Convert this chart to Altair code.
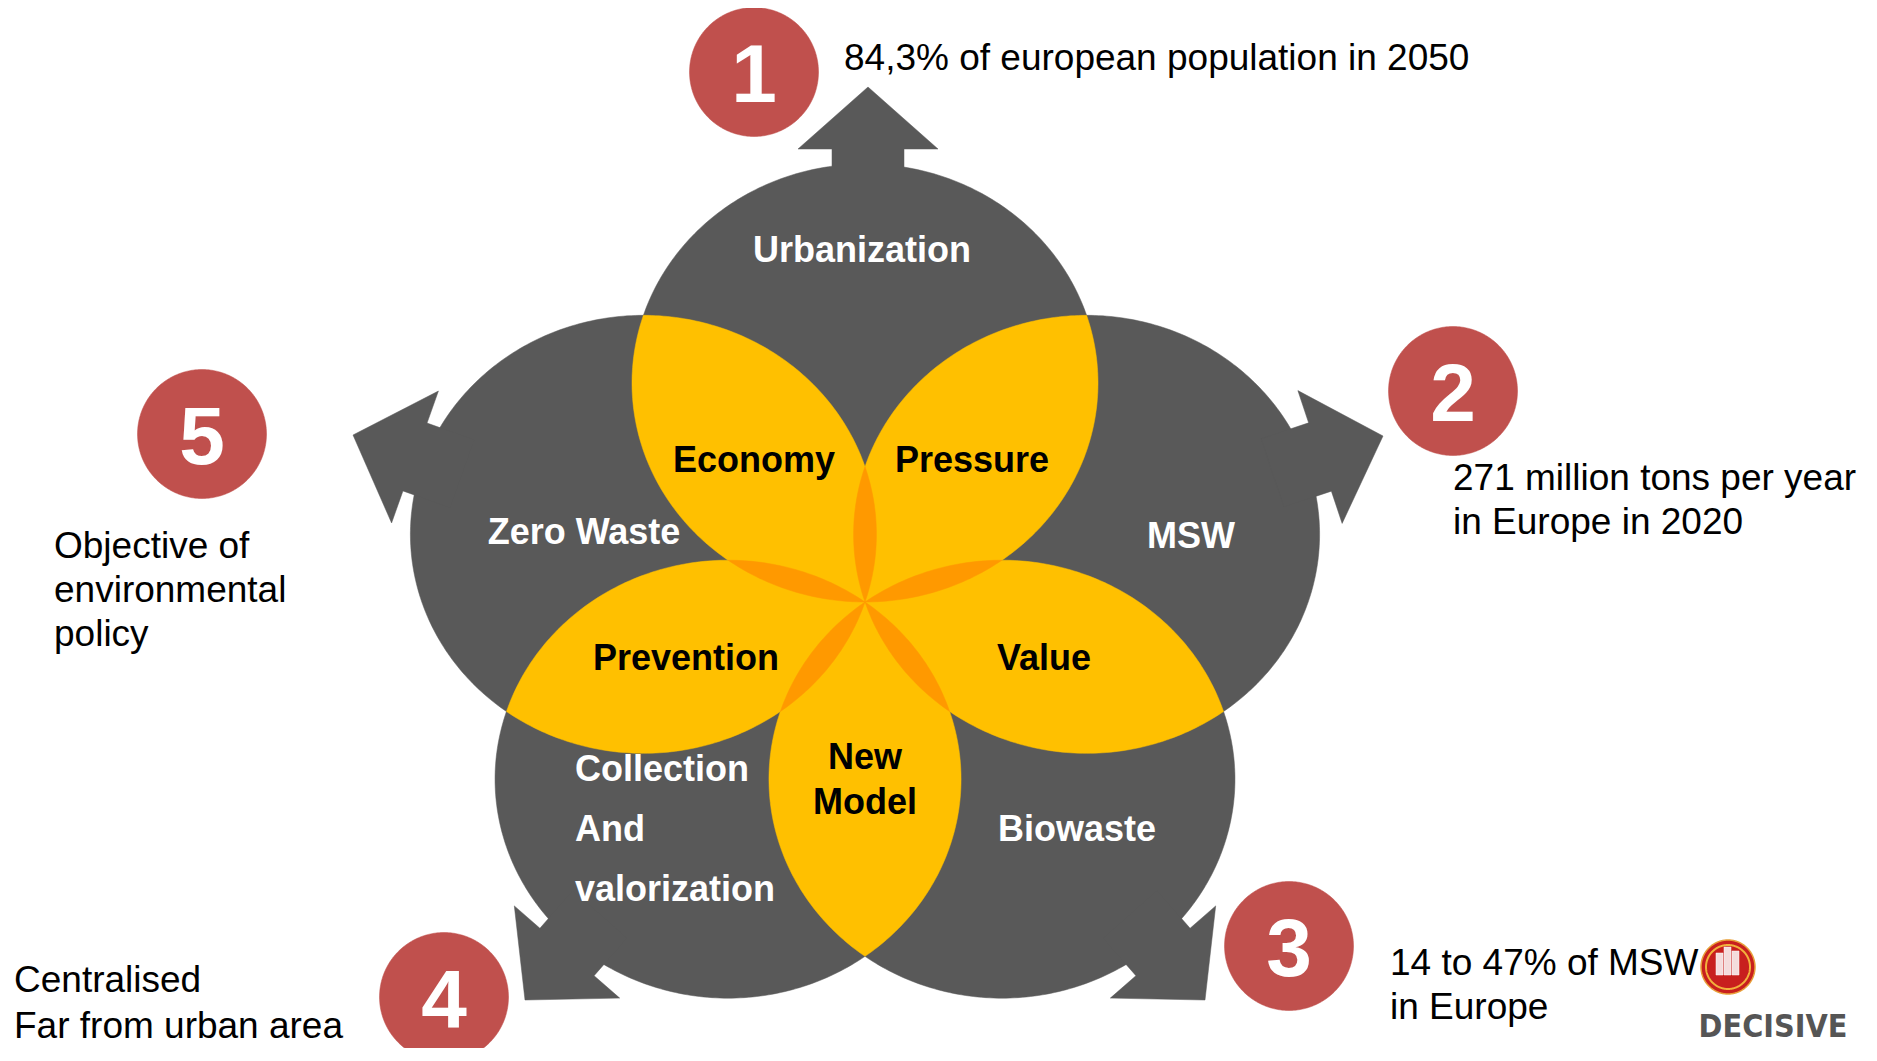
import math
import altair as alt
import pandas as pd

# ---------------- data ----------------
# flower of five circles (page pixel coordinates, y downwards)
FLOWER_CENTER = (865, 602)
FLOWER_RADII = (233, 219)              # horizontal / vertical radius of each petal circle
PETAL_ANGLES = [90, 162, 234, 306, 18]  # Urbanization, Zero Waste, Collection, Biowaste, MSW

# arrows: tip and base centre
ARROW_TIPS = [(868, 87), (353, 435), (525, 1000), (1205, 1000), (1383, 436)]
ARROW_BASES = [(868, 149), (415, 457), (567, 952), (1163, 952), (1320, 457)]

# white labels on grey
white_text = ["Urbanization", "Zero Waste", "MSW", "Biowaste"]
white_x = [862, 584, 1191, 1077]
white_y = [261, 543, 547, 840]
white_left_text = ["Collection", "And", "valorization"]
white_left_x = [575, 575, 575]
white_left_y = [780, 840, 900]

# black labels on yellow
black_text = ["Economy", "Pressure", "Prevention", "Value", "New", "Model"]
black_x = [754, 972, 686, 1044, 865, 865]
black_y = [471, 471, 669, 669, 768, 813]

# numbered red discs
numbers = ["1", "2", "3", "4", "5"]
num_x = [754, 1453, 1289, 444, 202]
num_y = [72, 391, 946, 997, 434]

# annotations
notes = ["84,3% of european population in 2050",
         "271 million tons per year", "in Europe in 2020",
         "14 to 47% of MSW", "in Europe",
         "Centralised", "Far from urban area",
         "Objective of", "environmental", "policy"]
note_x = [844, 1453, 1453, 1390, 1390, 14, 14, 54, 54, 54]
note_y = [70, 490, 534, 975, 1019, 992, 1038, 558, 602, 646]

GREY = "#595959"
YELLOW = "#FFC000"
ORANGE = "#FF9900"
RED = "#C0504D"

# ---------------- geometry helpers ----------------
def unit_circle(cx, cy, r=1.0, n=360):
    return [(cx + r * math.cos(2 * math.pi * k / n), cy + r * math.sin(2 * math.pi * k / n))
            for k in range(n)]


def cross(a, b, p):
    return (b[0] - a[0]) * (p[1] - a[1]) - (b[1] - a[1]) * (p[0] - a[0])


def intersect(p1, p2, a, b):
    x1, y1 = p1
    x2, y2 = p2
    x3, y3 = a
    x4, y4 = b
    den = (x1 - x2) * (y3 - y4) - (y1 - y2) * (x3 - x4)
    if abs(den) < 1e-12:
        return p2
    t = ((x1 - x3) * (y3 - y4) - (y1 - y3) * (x3 - x4)) / den
    return (x1 + t * (x2 - x1), y1 + t * (y2 - y1))


def clip(subject, clipper):
    output = list(subject)
    for i in range(len(clipper)):
        a, b = clipper[i - 1], clipper[i]
        inp, output = output, []
        if not inp:
            break
        for j in range(len(inp)):
            p, q = inp[j], inp[j - 1]
            ip, iq = cross(a, b, p) >= 0, cross(a, b, q) >= 0
            if ip:
                if not iq:
                    output.append(intersect(q, p, a, b))
                output.append(p)
            elif iq:
                output.append(intersect(q, p, a, b))
    return output


def to_screen(poly):
    cx, cy = FLOWER_CENTER
    rx, ry = FLOWER_RADII
    return [(cx + rx * x, cy - ry * y) for x, y in poly]


def feature(poly):
    ring = [[round(x, 2), round(y, 2)] for x, y in poly]
    ring.append(ring[0])
    return {"type": "Feature", "properties": {},
            "geometry": {"type": "Polygon", "coordinates": [ring]}}


circles = [unit_circle(math.cos(math.radians(a)), math.sin(math.radians(a))) for a in PETAL_ANGLES]
n_c = len(circles)
grey_feats = [feature(to_screen(c)) for c in circles]
lens_feats = [feature(to_screen(clip(circles[i], circles[(i + 1) % n_c]))) for i in range(n_c)]
triple_feats = []
for i in range(n_c):
    poly = clip(clip(circles[i - 1], circles[i]), circles[(i + 1) % n_c])
    if len(poly) > 2:
        triple_feats.append(feature(to_screen(poly)))

arrow_feats = []
HEAD_HW, SHAFT_HW, SHAFT_LEN = 70, 36, 50
for (tx, ty), (bx, by) in zip(ARROW_TIPS, ARROW_BASES):
    dx, dy = tx - bx, ty - by
    L = math.hypot(dx, dy)
    ux, uy = dx / L, dy / L
    nx, ny = -uy, ux
    sbx, sby = bx - SHAFT_LEN * ux, by - SHAFT_LEN * uy
    pts = [(sbx + SHAFT_HW * nx, sby + SHAFT_HW * ny),
           (bx + SHAFT_HW * nx, by + SHAFT_HW * ny),
           (bx + HEAD_HW * nx, by + HEAD_HW * ny),
           (tx, ty),
           (bx - HEAD_HW * nx, by - HEAD_HW * ny),
           (bx - SHAFT_HW * nx, by - SHAFT_HW * ny),
           (sbx - SHAFT_HW * nx, sby - SHAFT_HW * ny)]
    arrow_feats.append(feature(pts))

red_feats = [feature(unit_circle(x, y, 64.5)) for x, y in zip(num_x, num_y)]

# logo
LOGO_C = (1728, 967)
logo_disc = [feature(unit_circle(LOGO_C[0], LOGO_C[1], 27))]
logo_ring = [feature(unit_circle(LOGO_C[0], LOGO_C[1], 22))]
logo_bars = []
for bx0, h in [(-12, 22), (-4, 28), (4, 24)]:
    x0 = LOGO_C[0] + bx0
    y1 = LOGO_C[1] + 8
    logo_bars.append(feature([(x0, y1), (x0 + 7, y1), (x0 + 7, y1 - h), (x0, y1 - h)]))

# ---------------- chart ----------------
PROJ = alt.Projection(type="identity", scale=1, translate=[-8, -8])


def shapes(feats, **kw):
    return alt.Chart(alt.Data(values=feats), projection=PROJ).mark_geoshape(**kw)


def texts(labels, xs, ys, size, **kw):
    df = pd.DataFrame({"label": labels, "lon": xs, "lat": ys})
    return alt.Chart(df, projection=PROJ).mark_text(
        fontSize=size, dy=-round(0.29 * size), **kw).encode(
        longitude="lon:Q", latitude="lat:Q", text="label:N")


FONT = "Liberation Sans"
layers = [
    shapes(grey_feats, color=GREY, stroke=GREY, strokeWidth=0.5),
    shapes(arrow_feats, color=GREY, stroke=GREY, strokeWidth=0.5),
    shapes(lens_feats, color=YELLOW, stroke=YELLOW, strokeWidth=0.5),
    shapes(triple_feats, color=ORANGE, stroke=ORANGE, strokeWidth=0.5),
    shapes(red_feats, color=RED, stroke=RED, strokeWidth=0.5),
    shapes(logo_disc, color="#C8201E", stroke="#E8A03A", strokeWidth=1.5),
    shapes(logo_ring, filled=False, stroke="#F2B13C", strokeWidth=2),
    shapes(logo_bars, color="#F4DCDC", stroke="#FFFFFF", strokeWidth=0.5),
    texts(white_text, white_x, white_y, 36, font=FONT,
          fontWeight="bold", color="white", align="center"),
    texts(white_left_text, white_left_x, white_left_y, 36, font=FONT,
          fontWeight="bold", color="white", align="left"),
    texts(black_text, black_x, black_y, 36, font=FONT,
          fontWeight="bold", color="black", align="center"),
    texts(numbers, num_x, [y + 29 for y in num_y], 82, font=FONT,
          fontWeight="bold", color="white", align="center"),
    texts(notes, note_x, note_y, 37, font=FONT,
          color="black", align="left"),
    texts(["DECISIVE"], [1773], [1036], 32,
          font="DejaVu Sans Condensed, Liberation Sans Narrow, Liberation Sans",
          fontWeight="bold", color="#555555", align="center"),
]

chart = alt.layer(*layers).properties(
    width=1860, height=1040, padding=0, autosize="none"
).configure_view(stroke="transparent")

chart.save("out.html", embed_options={"renderer": "svg", "actions": False})
